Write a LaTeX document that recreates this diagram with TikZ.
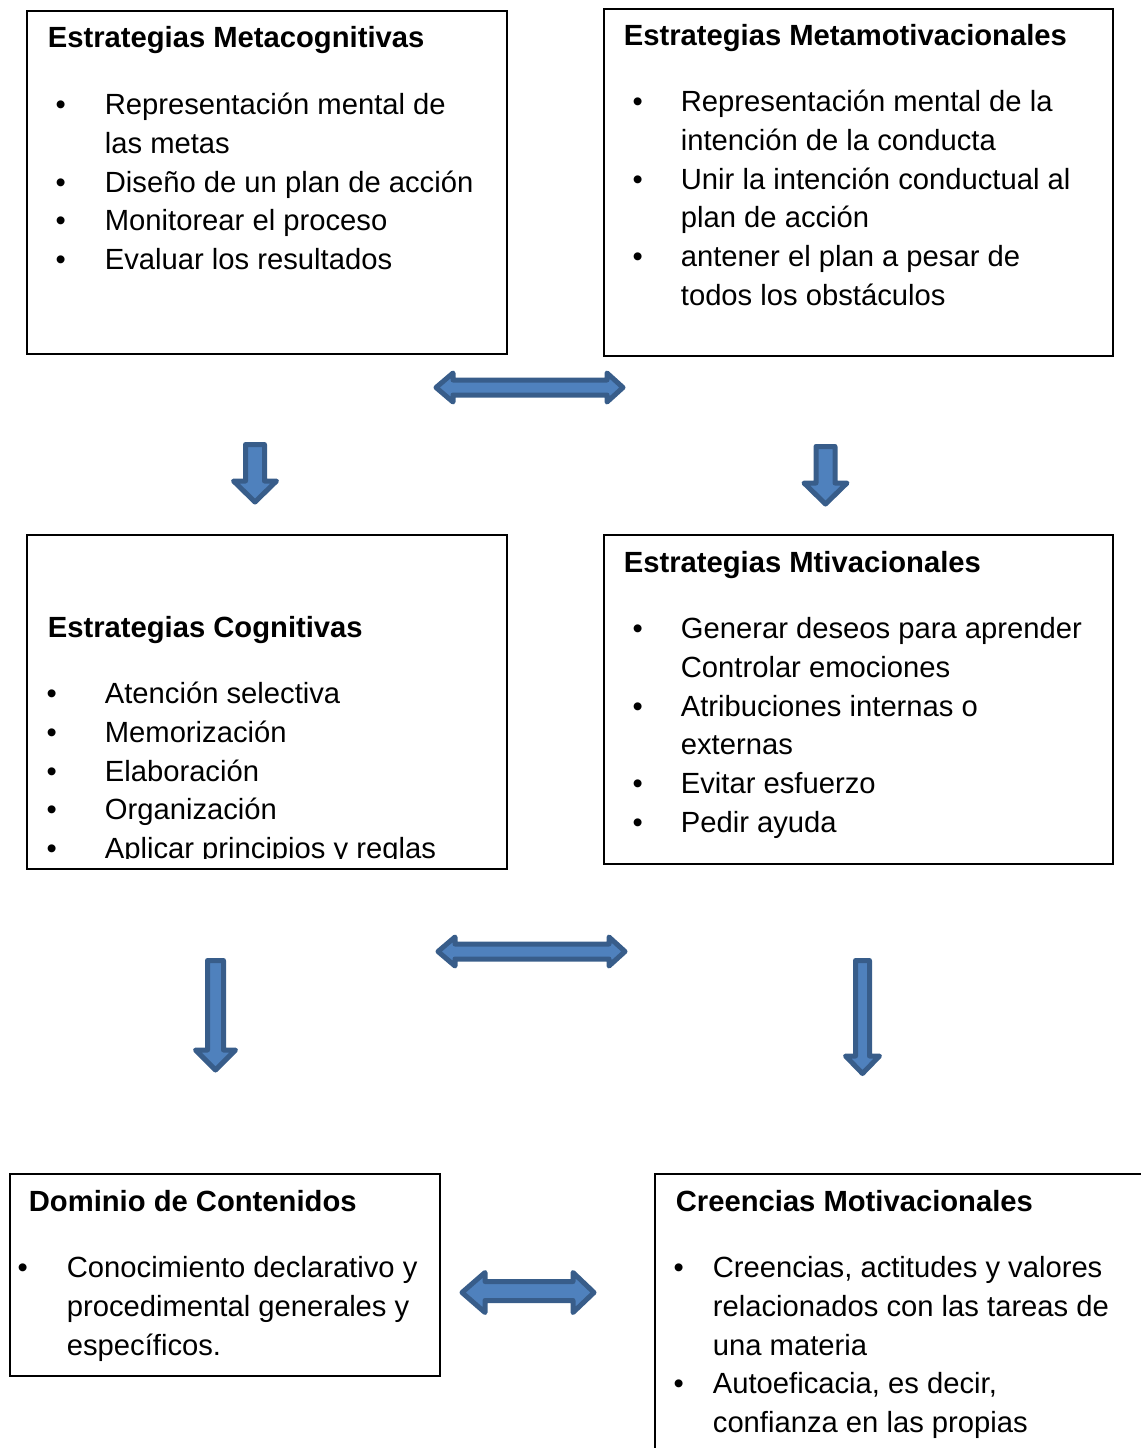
\documentclass[tikz,border=0pt]{standalone}
\usepackage{fontspec}
\setmainfont{Liberation Sans}
\definecolor{flechafill}{HTML}{4F81BD}
\definecolor{flechaline}{HTML}{385D8A}
\tikzset{
  caja/.style={draw, line width=1.1pt, anchor=north west, inner sep=0pt},
  titulo/.style={font=\bfseries\fontsize{14.6pt}{19.4pt}\selectfont, anchor=base west, inner sep=0pt},
  lista/.style={font=\fontsize{14.6pt}{19.4pt}\selectfont, anchor=north west, inner sep=0pt, align=left},
  flecha/.style={draw=flechaline, fill=flechafill, line width=2.5pt, line join=round}
}

\begin{document}
\begin{tikzpicture}[x=0.5pt,y=-0.5pt]
\clip (0,0) rectangle (1141,1448);
\node[caja, minimum width=240pt, minimum height=171.5pt] (meta) at (26,10) {};
\node[caja, minimum width=254.5pt, minimum height=173.5pt] (metamot) at (603,8) {};
\node[caja, minimum width=240pt, minimum height=167pt] (cogn) at (26,534) {};
\node[caja, minimum width=254.5pt, minimum height=164.5pt] (motiv) at (603,534) {};
\node[caja, minimum width=215pt, minimum height=101pt] (domin) at (8.5,1173) {};
\node[caja, minimum width=260pt, minimum height=160pt] (creen) at (654,1173) {};
\node[titulo] (metatit) at (47.5,47.5) {Estrategias Metacognitivas};
\node[lista] (metalist) at (104.5,87) {\strut\llap{•\hspace{19.5pt}}Representación mental de\\
las metas\\
\llap{•\hspace{19.5pt}}Diseño de un plan de acción\\
\llap{•\hspace{19.5pt}}Monitorear el proceso\\
\llap{•\hspace{19.5pt}}Evaluar los resultados};
\node[titulo] (metamottit) at (623.5,45) {Estrategias Metamotivacionales};
\node[lista] (metamotlist) at (680.5,84) {\strut\llap{•\hspace{19pt}}Representación mental de la\\
intención de la conducta\\
\llap{•\hspace{19pt}}Unir la intención conductual al\\
plan de acción\\
\llap{•\hspace{19pt}}antener el plan a pesar de\\
todos los obstáculos};
\node[titulo] (cogntit) at (47.5,637) {Estrategias Cognitivas};
\begin{scope}
\clip (26,534) rectangle (506,858);
\node[lista] (cognlist) at (104.5,676) {\strut\llap{•\hspace{24pt}}Atención selectiva\\
\llap{•\hspace{24pt}}Memorización\\
\llap{•\hspace{24pt}}Elaboración\\
\llap{•\hspace{24pt}}Organización\\
\llap{•\hspace{24pt}}Aplicar principios y reglas};
\end{scope}
\node[titulo] (motivtit) at (623.5,572) {Estrategias Mtivacionales};
\node[lista] (motivlist) at (680.5,611) {\strut\llap{•\hspace{19pt}}Generar deseos para aprender\\
Controlar emociones\\
\llap{•\hspace{19pt}}Atribuciones internas o\\
externas\\
\llap{•\hspace{19pt}}Evitar esfuerzo\\
\llap{•\hspace{19pt}}Pedir ayuda};
\node[titulo] (domintit) at (28.5,1211) {Dominio de Contenidos};
\node[lista] (dominlist) at (66.5,1250) {\strut\llap{•\hspace{19.5pt}}Conocimiento declarativo y\\
procedimental generales y\\
específicos.};
\node[titulo] (creentit) at (675.5,1211) {Creencias Motivacionales};
\node[lista] (creenlist) at (712.5,1250) {\strut\llap{•\hspace{14.5pt}}Creencias, actitudes y valores\\
relacionados con las tareas de\\
una materia\\
\llap{•\hspace{14.5pt}}Autoeficacia, es decir,\\
confianza en las propias};
% flechas dobles
\draw[flecha] (436,387.5) -- (453,373) -- (453,380) -- (607,380) -- (607,373) -- (623,387.5) -- (607,402) -- (607,395) -- (453,395) -- (453,402) -- cycle;
\draw[flecha] (438,951.5) -- (455,937) -- (455,944) -- (609,944) -- (609,937) -- (625,951.5) -- (609,966) -- (609,959) -- (455,959) -- (455,966) -- cycle;
\draw[flecha] (462,1292.5) -- (485,1272.5) -- (485,1281.5) -- (573,1281.5) -- (573,1272.5) -- (594,1292.5) -- (573,1312.5) -- (573,1300.5) -- (485,1300.5) -- (485,1312.5) -- cycle;
% flechas abajo
\draw[flecha] (245.5,444.5) -- (264.5,444.5) -- (264.5,481) -- (276.5,481) -- (255,502) -- (233.5,481) -- (245.5,481) -- cycle;
\draw[flecha] (816,446.5) -- (835,446.5) -- (835,483) -- (847,483) -- (825.5,504) -- (804,483) -- (816,483) -- cycle;
\draw[flecha] (207.5,960.5) -- (223.5,960.5) -- (223.5,1050) -- (235.5,1050) -- (215.5,1070) -- (195.5,1050) -- (207.5,1050) -- cycle;
\draw[flecha] (855.5,960.5) -- (869.5,960.5) -- (869.5,1056) -- (879.5,1056) -- (862.5,1073.5) -- (845.5,1056) -- (855.5,1056) -- cycle;
\end{tikzpicture}
\end{document}
